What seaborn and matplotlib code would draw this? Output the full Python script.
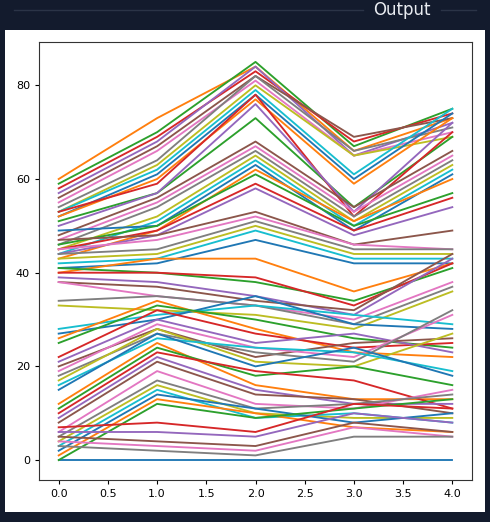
import pandas as pd
import matplotlib.pyplot as plt
import seaborn as sns
from matplotlib.patches import Rectangle
from matplotlib.lines import Line2D

# x positions shared by every line
steps = [0, 1, 2, 3, 4]

# one row per line
flat_line = [0, 0, 0, 0, 0]

top_group = [
    [60, 73, 84, 66, 73],
    [59, 70, 85, 67, 75],
    [58, 69, 83, 68, 74],
    [57, 68, 84, 65, 72],
    [56, 67, 82, 69, 73],
    [55, 66, 81, 65, 70],
    [54, 64, 82, 66, 71],
    [53, 63, 80, 65, 69],
    [53, 62, 79, 61, 75],
    [52, 61, 78, 60, 74],
    [52, 60, 77, 59, 73],
    [51, 57, 73, 54, 69],
    [53, 59, 78, 52, 70],
    [50, 57, 76, 53, 72],
]

upper_mid_group = [
    [48, 56, 68, 54, 66],
    [47, 55, 67, 53, 65],
    [46, 54, 66, 52, 64],
    [45, 52, 65, 51, 63],
    [44, 51, 64, 50, 62],
    [49, 50, 63, 49, 61],
    [43, 49, 62, 51, 60],
    [46, 50, 61, 50, 57],
    [45, 49, 59, 49, 56],
    [44, 48, 58, 48, 54],
]

mid_group = [
    [47, 48, 53, 46, 49],
    [45, 47, 52, 46, 45],
    [44, 45, 51, 45, 45],
    [43, 44, 50, 44, 44],
    [42, 43, 49, 43, 43],
    [41, 42, 47, 42, 42],
    [40, 43, 43, 36, 42],
]

lower_mid_group = [
    [41, 40, 38, 34, 41],
    [40, 40, 39, 33, 42],
    [39, 38, 35, 31, 43],
    [38, 37, 34, 32, 44],
    [38, 35, 33, 30, 38],
    [34, 35, 33, 29, 37],
    [33, 32, 31, 28, 36],
]

low_peak_group = [
    [28, 31, 33, 31, 29],
    [27, 30, 35, 29, 28],
    [26, 34, 28, 23, 22],
    [25, 33, 30, 26, 24],
    [22, 32, 27, 24, 25],
    [21, 30, 25, 27, 23],
    [20, 28, 22, 25, 26],
    [19, 29, 24, 22, 31],
    [18, 27, 23, 21, 32],
    [17, 28, 21, 20, 27],
    [16, 26, 24, 23, 19],
    [15, 27, 20, 24, 18],
]

low_group = [
    [12, 25, 16, 13, 13],
    [11, 24, 18, 20, 16],
    [10, 23, 19, 17, 11],
    [9, 22, 15, 12, 12],
    [8, 21, 14, 13, 10],
    [6, 19, 12, 11, 15],
    [5, 17, 11, 12, 14],
    [4, 16, 10, 9, 9],
    [3, 15, 9, 10, 8],
    [2, 14, 11, 8, 10],
    [1, 13, 10, 7, 6],
    [0, 12, 9, 11, 13],
]

bottom_group = [
    [7, 8, 6, 12, 11],
    [6, 6, 5, 10, 8],
    [5, 4, 3, 8, 6],
    [4, 3, 2, 7, 5],
    [3, 2, 1, 5, 5],
]

rows = ([flat_line] + top_group + upper_mid_group + mid_group
        + lower_mid_group + low_peak_group + low_group + bottom_group)

records = []
for i, row in enumerate(rows):
    for x, v in zip(steps, row):
        records.append({'row': i, 'x': x, 'value': v})
df = pd.DataFrame(records)

tab10 = sns.color_palette('tab10')
palette = [tab10[i % 10] for i in range(len(rows))]

bg = '#131b2d'
fig = plt.figure(figsize=(4.9, 5.22), dpi=100, facecolor=bg)

# white card holding the chart
fig.add_artist(Rectangle((5 / 490, 1 - 512 / 522), 480 / 490, 482 / 522,
                         transform=fig.transFigure, facecolor='white',
                         edgecolor='none', zorder=0))

# header with the "Output" label
fig.add_artist(Line2D([14 / 490, 363 / 490], [1 - 10 / 522] * 2,
                      transform=fig.transFigure, color='#2b3447', lw=1))
fig.add_artist(Line2D([441 / 490, 476 / 490], [1 - 10 / 522] * 2,
                      transform=fig.transFigure, color='#2b3447', lw=1))
fig.text(402 / 490, 1 - 10 / 522, 'Output', color='#e8ebf0', fontsize=12,
         ha='center', va='center')

ax = fig.add_axes([39 / 490, 1 - 480 / 522, 433 / 490, 438 / 522])
sns.lineplot(data=df, x='x', y='value', hue='row', palette=palette,
             legend=False, linewidth=1.35, ax=ax, estimator=None)
ax.set_xlabel('')
ax.set_ylabel('')
ax.set_xticks([0, 0.5, 1, 1.5, 2, 2.5, 3, 3.5, 4])
ax.tick_params(labelsize=8, length=3)
for s in ax.spines.values():
    s.set_linewidth(0.8)
    s.set_color('#333333')

fig.savefig('out.png', dpi=100, facecolor=bg)
